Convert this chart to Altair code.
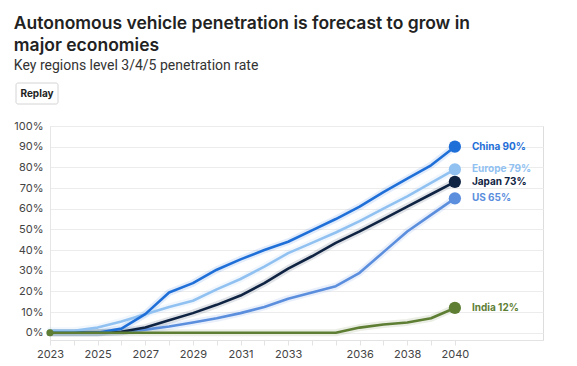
import altair as alt
import pandas as pd

years = list(range(2023, 2041))
china = [0, 0, 0, 2, 9, 19.5, 24, 30.5, 35.5, 40, 44, 49.5, 55, 61, 68, 74.5, 81, 90]
europe = [1, 1, 2.5, 5.5, 9, 12.5, 15.5, 21, 26, 32, 38.5, 43.5, 48.5, 54, 60, 66, 72.5, 79]
japan = [0, 0, 0, 0.5, 2.5, 6, 9.5, 13.5, 18, 24, 31, 37, 43.5, 49, 55, 61, 67, 73]
us = [0, 0, 0, 0.5, 1.5, 3, 5, 7, 9.5, 12.5, 16.5, 19.5, 22.5, 29, 39, 49, 57, 65]
india = [0, 0, 0, 0, 0, 0, 0, 0, 0, 0, 0, 0, 0, 2.5, 4, 5, 7, 12]

series = ["US", "Japan", "Europe", "China", "India"]
colors = ["#5b8edd", "#0f2343", "#90c1f1", "#1f6fd8", "#5e7e34"]
label_colors = ["#5b8edd", "#0f2343", "#8dbcec", "#1f6fd8", "#6b8a3e"]
values = {"US": us, "Japan": japan, "Europe": europe, "China": china, "India": india}

x_labels = [2023, 2025, 2027, 2029, 2031, 2033, 2036, 2038, 2040]
y_ticks = [0, 10, 20, 30, 40, 50, 60, 70, 80, 90, 100]

rows = []
for s in series:
    for y, v in zip(years, values[s]):
        rows.append({"series": s, "year": y, "value": v})
df = pd.DataFrame(rows)
last = df[df["year"] == years[-1]].copy()
last["label"] = last["series"] + " " + last["value"].round(0).astype(int).astype(str) + "%"
first_india = df[(df["year"] == years[0]) & (df["series"] == "India")]

FONT = "Inter"
label_set = "[" + ",".join(str(v) for v in x_labels) + "]"

x_axis = alt.Axis(
    values=years,
    labelExpr=f"indexof({label_set}, datum.value) >= 0 ? '' + datum.value : ''",
    labelOverlap=False,
    labelFlush=False,
    title=None,
    grid=False,
    domainColor="#e3e3e3",
    tickColor="#e3e3e3",
    tickSize=5,
    labelColor="#444444",
    labelFontSize=11,
    labelFont=FONT,
    labelPadding=3,
)
y_axis = alt.Axis(
    values=y_ticks,
    labelExpr="datum.value + '%'",
    labelOverlap=False,
    labelFlush=False,
    title=None,
    gridColor="#ececec",
    domainColor="#e6e6e6",
    ticks=False,
    labelColor="#444444",
    labelFontSize=11,
    labelFont=FONT,
    labelPadding=7,
)
x_scale = alt.Scale(domain=[2023, 2043.7], nice=False, zero=False)
y_scale = alt.Scale(domain=[-3.5, 100], nice=False, zero=False)


def xe():
    return alt.X("year:Q", scale=x_scale, axis=x_axis)


def ye():
    return alt.Y("value:Q", scale=y_scale, axis=y_axis)


color_enc = alt.Color("series:N", scale=alt.Scale(domain=series, range=colors), legend=None)

base = alt.Chart(df)
halo = base.mark_line(strokeWidth=7, opacity=0.13, strokeCap="round", strokeJoin="round").encode(
    x=xe(), y=ye(), color=color_enc, detail="series:N"
)
lines = base.mark_line(strokeWidth=2.6, strokeJoin="round").encode(
    x=xe(), y=ye(), color=color_enc, detail="series:N"
)
points = alt.Chart(last).mark_circle(size=150, opacity=1).encode(
    x=xe(), y=ye(), color=color_enc
)
start_point = alt.Chart(first_india).mark_circle(size=50, opacity=1).encode(
    x=xe(), y=ye(), color=color_enc
)
labels = alt.Chart(last).mark_text(
    align="left", baseline="middle", dx=17, fontSize=10, fontWeight="bold", font=FONT
).encode(
    x=xe(), y=ye(), text="label:N",
    color=alt.Color("series:N", scale=alt.Scale(domain=series, range=label_colors), legend=None),
)

button_df = pd.DataFrame({"t": ["Replay"]})
button = alt.Chart(button_df).mark_rect(
    fill="white", stroke="#d4d4d4", strokeWidth=1, cornerRadius=2
).encode(x=alt.value(-34), x2=alt.value(8), y=alt.value(-43), y2=alt.value(-22))
button_text = alt.Chart(button_df).mark_text(
    fontSize=10, fontWeight="bold", font=FONT, color="#222222"
).encode(x=alt.value(-13), y=alt.value(-32.5), text="t:N")

chart = alt.layer(halo, lines, points, start_point, labels, button, button_text).properties(
    width=493,
    height=214,
    padding={"left": 5, "top": 7, "right": 5, "bottom": 0},
    title=alt.TitleParams(
        text=["Autonomous vehicle penetration is forecast to grow in", "major economies"],
        subtitle="Key regions level 3/4/5 penetration rate",
        anchor="start",
        frame="bounds",
        font=FONT,
        fontSize=17.5,
        fontWeight=600,
        color="#222222",
        lineHeight=22,
        subtitleFont="Roboto",
        subtitleFontSize=14,
        subtitleColor="#333333",
        subtitlePadding=4,
        offset=10,
    ),
).configure_view(stroke=None).configure(background="white")

chart.save("out.html", embed_options={"renderer": "svg", "actions": False})
